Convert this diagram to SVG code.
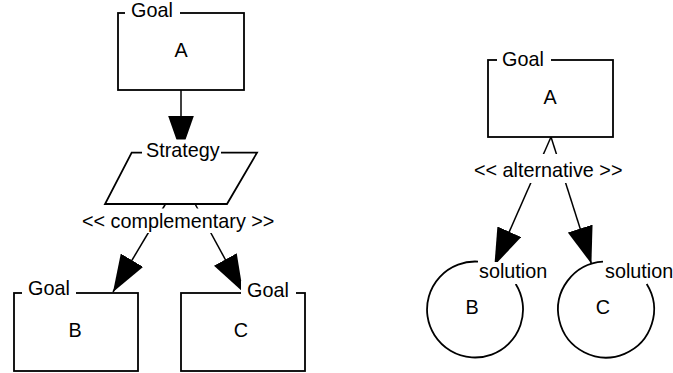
<svg xmlns="http://www.w3.org/2000/svg" width="673" height="373" viewBox="0 0 673 373">
  <style>
    text { font-family: "Liberation Sans", Arial, Helvetica, sans-serif; font-size: 19.8px; fill: #000; }
    .mid { text-anchor: middle; }
    .shape { fill: none; stroke: #000; stroke-width: 1.8; }
    .bg { fill: #fff; stroke: none; }
    .conn { fill: none; stroke: #000; stroke-width: 1.5; marker-end: url(#arrow); }
  </style>
  <defs>
    <marker id="arrow" viewBox="0 0 37 26" refX="37" refY="13" markerWidth="37" markerHeight="26" markerUnits="userSpaceOnUse" orient="auto">
      <path d="M0,0 L37,13 L0,26 Z" fill="#000"/>
    </marker>
  </defs>
  <rect width="673" height="373" fill="#fff"/>

  <g id="connectors">
    <line class="conn" x1="181" y1="90" x2="181" y2="152.5"/>
    <line class="conn" x1="165.5" y1="204" x2="113" y2="292"/>
    <line class="conn" x1="195.1" y1="204" x2="243" y2="292"/>
    <line class="conn" x1="551" y1="137" x2="494.4" y2="265.6"/>
    <line class="conn" x1="551" y1="137" x2="591.4" y2="263.8"/>
    <g id="label-complementary">
      <rect class="bg" x="79" y="208.5" width="199" height="24.5"/>
      <text x="82" y="228">&lt;&lt; complementary &gt;&gt;</text>
    </g>
    <g id="label-alternative">
      <rect class="bg" x="471" y="154" width="155" height="29"/>
      <text x="474" y="177">&lt;&lt; alternative &gt;&gt;</text>
    </g>
  </g>

  <g id="goal-A-left">
    <rect class="shape" x="118" y="13" width="126" height="77"/>
    <rect class="bg" x="125" y="1" width="55" height="21"/>
    <text x="131" y="17">Goal</text>
    <text class="mid" x="181" y="57">A</text>
  </g>

  <g id="strategy">
    <polygon class="shape" points="131.7,152.7 257,152.7 227,204 105,204"/>
    <rect class="bg" x="142" y="139.5" width="79" height="20"/>
    <text x="146" y="157">Strategy</text>
  </g>

  <g id="goal-B-left">
    <rect class="shape" x="14" y="293" width="124" height="78"/>
    <rect class="bg" x="22" y="279" width="54" height="20"/>
    <text x="28" y="295">Goal</text>
    <text class="mid" x="75" y="337">B</text>
  </g>

  <g id="goal-C-left">
    <rect class="shape" x="181" y="293" width="124" height="78"/>
    <rect class="bg" x="241" y="281" width="55" height="20"/>
    <text x="247" y="297">Goal</text>
    <text class="mid" x="241" y="337">C</text>
  </g>

  <g id="goal-A-right">
    <rect class="shape" x="488" y="60" width="125" height="77"/>
    <rect class="bg" x="497" y="48" width="54" height="21"/>
    <text x="502" y="66">Goal</text>
    <text class="mid" x="550" y="104">A</text>
  </g>

  <g id="solution-B">
    <path class="shape" stroke-width="1.5" d="M478,261.6 A48,48 0 1,0 515.7,284"/>
    <rect class="bg" x="478" y="262" width="71" height="22"/>
    <text x="479" y="278">solution</text>
    <text class="mid" x="472" y="314">B</text>
  </g>

  <g id="solution-C">
    <path class="shape" stroke-width="1.5" d="M603,261.6 A48,48 0 1,0 646.7,284"/>
    <text x="605" y="278">solution</text>
    <text class="mid" x="603" y="314">C</text>
  </g>
</svg>
